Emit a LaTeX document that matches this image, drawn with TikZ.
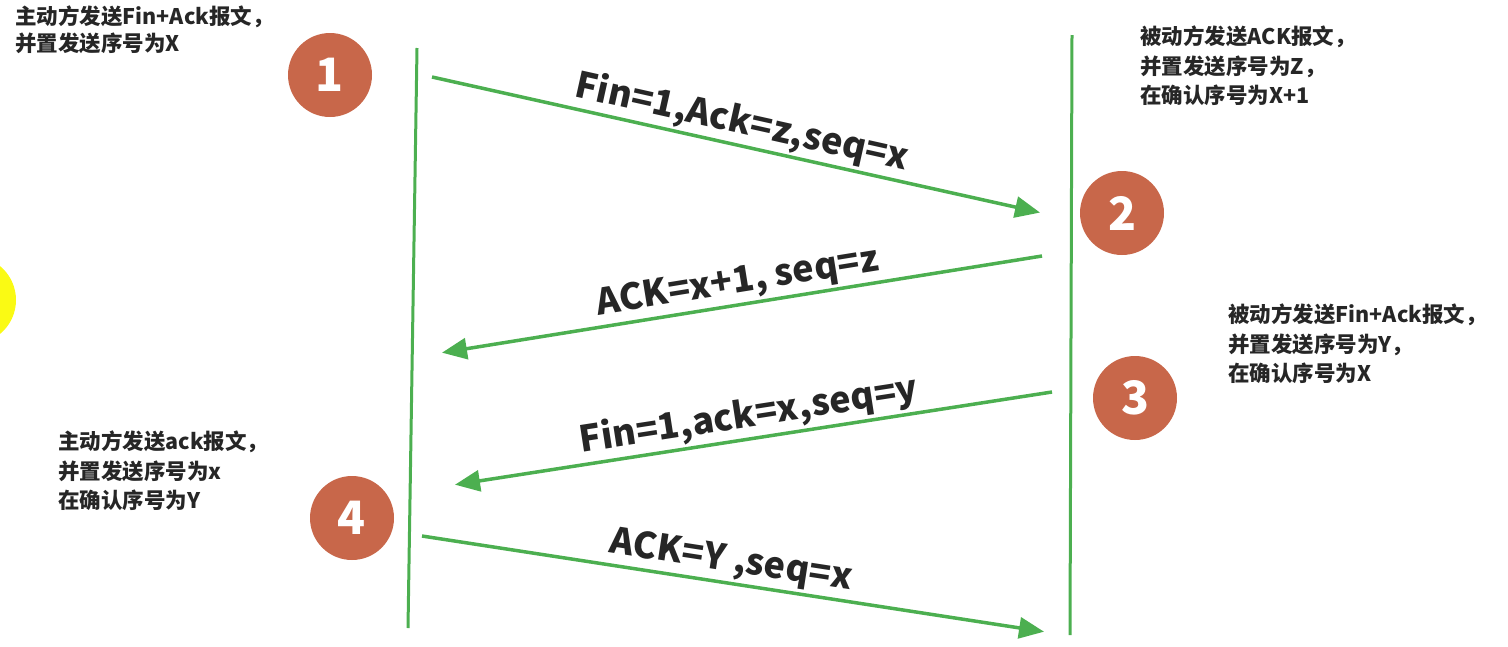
\documentclass[tikz,border=0pt]{standalone}
\usepackage{fontspec}
\setmainfont{Noto Sans CJK SC}
\usepackage{xcolor}
\usetikzlibrary{arrows.meta}

\definecolor{msggreen}{RGB}{76,175,80}
\definecolor{stepred}{RGB}{200,103,74}
\definecolor{blobyellow}{RGB}{250,250,20}

\begin{document}
\begin{tikzpicture}[
      x=1pt, y=-1pt,
      lifeline/.style={draw=msggreen, line width=3pt},
      msg/.style={-{Triangle[length=25pt, width=21pt]}, draw=msggreen, fill=msggreen, line width=3.5pt, shorten >=2pt},
      msg_label/.style={sloped, above, inner sep=2pt, font=\fontsize{36}{40}\selectfont\bfseries, text=black!85},
      stepnum/.style={circle, fill=stepred, minimum size=84pt, inner sep=0pt, text=white, font=\fontsize{46}{46}\selectfont\bfseries},
      note/.style={anchor=north west, inner sep=0pt, align=left, font=\fontsize{21.5}{29.5}\selectfont\bfseries, text=black!85}
  ]
  \useasboundingbox (0,0) rectangle (1508,646);

  % highlight blob at the left edge
  \fill[blobyellow] (-28,300) circle (44);

  % lifelines
  \coordinate (activeTop) at (417,48);
  \coordinate (activeBot) at (408,628);
  \coordinate (passiveTop) at (1072,35);
  \coordinate (passiveBot) at (1070,635);
  \draw[lifeline] (activeTop) -- (activeBot);
  \draw[lifeline] (passiveTop) -- (passiveBot);

  % message end points
  \coordinate (finStart) at (432,77);
  \coordinate (finEnd) at (1042,213);
  \coordinate (ackStart) at (1042,256);
  \coordinate (ackEnd) at (440,353);
  \coordinate (fin2Start) at (1052,392);
  \coordinate (fin2End) at (453,485);
  \coordinate (ack2Start) at (422,536);
  \coordinate (ack2End) at (1046,632);

  \draw[msg] (finStart) -- node[msg_label] {Fin=1,Ack=z,seq=x} (finEnd);
  \draw[msg] (ackStart) -- node[msg_label] {ACK=x+1, seq=z} (ackEnd);
  \draw[msg] (fin2Start) -- node[msg_label] {Fin=1,ack=x,seq=y} (fin2End);
  \draw[msg] (ack2Start) -- node[msg_label, pos=0.49] {ACK=Y ,seq=x} (ack2End);

  % step numbers
  \node[stepnum] (step1) at (330,75) {1};
  \node[stepnum] (step2) at (1122,213) {2};
  \node[stepnum] (step3) at (1135,398) {3};
  \node[stepnum] (step4) at (352,518) {4};

  % notes
  \node[note] (note1) at (15,6) {主动方发送Fin+Ack报文，\\[-2.5pt]并置发送序号为X};
  \node[note] (note2) at (1140,26) {被动方发送ACK报文，\\并置发送序号为Z，\\在确认序号为X+1};
  \node[note] (note3) at (1228,304) {被动方发送Fin+Ack报文，\\并置发送序号为Y，\\在确认序号为X};
  \node[note] (note4) at (58,431) {主动方发送ack报文，\\并置发送序号为x\\在确认序号为Y};

\end{tikzpicture}
\end{document}
